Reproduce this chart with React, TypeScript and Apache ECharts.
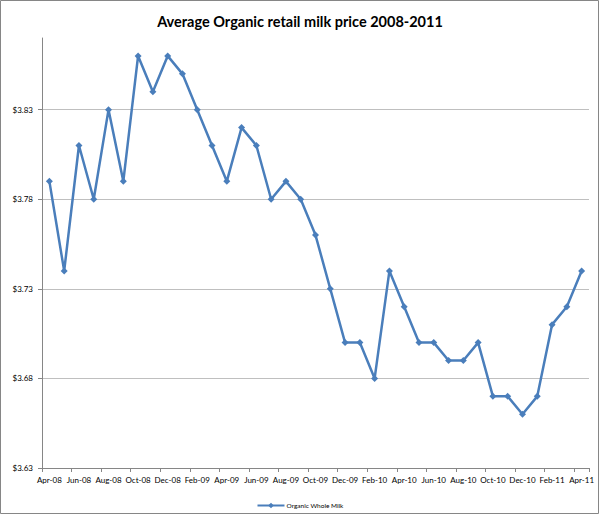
import React, { useEffect, useRef } from "react";
import * as echarts from "echarts";

const months: string[] = [
  "Apr-08", "May-08", "Jun-08", "Jul-08", "Aug-08", "Sep-08", "Oct-08", "Nov-08", "Dec-08",
  "Jan-09", "Feb-09", "Mar-09", "Apr-09", "May-09", "Jun-09", "Jul-09", "Aug-09", "Sep-09",
  "Oct-09", "Nov-09", "Dec-09", "Jan-10", "Feb-10", "Mar-10", "Apr-10", "May-10", "Jun-10",
  "Jul-10", "Aug-10", "Sep-10", "Oct-10", "Nov-10", "Dec-10", "Jan-11", "Feb-11", "Mar-11",
  "Apr-11",
];

const organicWholeMilk: number[] = [
  3.79, 3.74, 3.81, 3.78, 3.83, 3.79, 3.86, 3.84, 3.86,
  3.85, 3.83, 3.81, 3.79, 3.82, 3.81, 3.78, 3.79, 3.78,
  3.76, 3.73, 3.70, 3.70, 3.68, 3.74, 3.72, 3.70, 3.70,
  3.69, 3.69, 3.70, 3.67, 3.67, 3.66, 3.67, 3.71, 3.72,
  3.74,
];

const yMin = 3.63;
const yMax = 3.87;
const yStep = 0.05;

const seriesName = "Organic Whole Milk";
const titleText = "Average Organic retail milk price 2008-2011";

export default function App() {
  const ref = useRef<HTMLDivElement>(null);

  useEffect(() => {
    document.body.style.margin = "0";
    if (!ref.current) return;
    const chart = echarts.init(ref.current, null, { renderer: "svg" });
    const font = "Lato, 'Liberation Sans', sans-serif";
    chart.setOption({
      animation: false,
      backgroundColor: "#ffffff",
      textStyle: { fontFamily: font },
      title: {
        text: titleText,
        left: "center",
        top: 9,
        textStyle: { fontFamily: font, fontSize: 14.5, fontWeight: "bold", color: "#000000" },
      },
      graphic: [
        {
          type: "rect",
          shape: { x: 0.5, y: 0.5, width: 598, height: 513 },
          style: { fill: "none", stroke: "#868686", lineWidth: 1 },
          silent: true,
        },
      ],
      legend: {
        data: [seriesName],
        left: "center",
        top: 497,
        itemWidth: 27,
        itemHeight: 7,
        itemGap: 4,
        textStyle: { fontFamily: font, fontSize: 6.5, color: "#000000", padding: [0, 0, 0, -3] },
      },
      grid: { left: 42, right: 11, top: 38, bottom: 47, containLabel: false },
      xAxis: {
        type: "category",
        data: months,
        boundaryGap: true,
        axisLine: { lineStyle: { color: "#868686", width: 1 } },
        axisTick: { show: true, interval: 1, length: 4, lineStyle: { color: "#868686" } },
        axisLabel: { interval: 1, fontSize: 8, color: "#000000", margin: 8, fontFamily: font },
        splitLine: { show: false },
      },
      yAxis: {
        type: "value",
        min: yMin,
        max: yMax,
        interval: yStep,
        axisLine: { show: true, lineStyle: { color: "#868686", width: 1 } },
        axisTick: { show: true, length: 4, lineStyle: { color: "#868686" } },
        axisLabel: {
          fontSize: 8,
          color: "#000000",
          margin: 9,
          fontFamily: font,
          showMaxLabel: false,
          formatter: (v: number) => (v > yMax - 0.005 ? "" : "$" + v.toFixed(2)),
        },
        splitLine: { show: true, showMinLine: false, showMaxLine: false, lineStyle: { color: "#bfbfbf", width: 1 } },
      },
      series: [
        {
          name: seriesName,
          type: "line",
          data: organicWholeMilk,
          symbol: "diamond",
          symbolSize: 7,
          showAllSymbol: true,
          lineStyle: { color: "#4a7ebb", width: 2.5 },
          itemStyle: { color: "#4a7ebb" },
          emphasis: { disabled: true },
        },
      ],
    });
    return () => chart.dispose();
  }, []);

  return <div ref={ref} style={{ width: 600, height: 515 }} />;
}
